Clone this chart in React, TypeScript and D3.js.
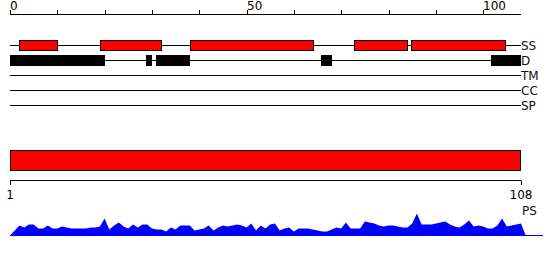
import React from "react";
import * as d3 from "d3";

const topTicks = [0, 10, 20, 30, 40, 50, 60, 70, 80, 90, 100];
const topTickLabels = ["0", "", "", "", "", "50", "", "", "", "", "100"];
const trackNames = ["SS", "D", "TM", "CC", "SP"];
const ssHelices: [number, number][] = [[2, 10], [19, 32], [38, 64], [72.8, 83.9], [84.8, 104.7]];
const disorder: [number, number][] = [[0, 20], [28.7, 30], [30.9, 38], [65.8, 68], [101.7, 108]];
const seqStart = 1;
const seqEnd = 108;
const psValues = [
  0, 5, 10, 8, 11, 11, 7, 7, 10, 7, 7, 9, 8, 7, 7, 7, 7, 8, 8, 9,
  17, 6, 10, 13, 9, 7, 11, 8, 11, 11, 7, 6, 6, 4, 8, 6, 10, 10, 10, 5,
  6, 7, 10, 5, 8, 10, 9, 10, 11, 10, 8, 12, 5, 10, 7, 11, 12, 5, 7, 8,
  4, 7, 7, 7, 6, 5, 4, 4, 6, 8, 7, 13, 7, 7, 7, 14, 13, 12, 10, 9,
  10, 10, 9, 8, 8, 12, 22, 11, 11, 11, 12, 13, 14, 11, 9, 8, 11, 15, 9, 10,
  9, 7, 7, 10, 17, 9, 10, 11, 12, 0,
];

export default function App() {
  const x = d3.scaleLinear().domain([0, 108]).range([10, 521]);
  const xb = d3.scaleLinear().domain([seqStart, seqEnd]).range([10, 521]);
  const yPs = d3.scaleLinear().domain([0, 25]).range([235.5, 210.5]);
  const rowY = (i: number) => 45.5 + i * 15;
  const font = "DejaVu Sans, sans-serif";

  const area = d3
    .area<number>()
    .x((_, i) => x(i))
    .y0(yPs(0))
    .y1((d) => yPs(d));

  return (
    <svg
      width={550}
      height={260}
      style={{ position: "absolute", left: 0, top: 0 }}
      fontFamily={font}
    >
      {/* top axis */}
      <line x1={x(0)} x2={x(108)} y1={14.5} y2={14.5} stroke="black" />
      {topTicks.map((t, i) => (
        <g key={t}>
          <line x1={Math.round(x(t)) + 0.5} x2={Math.round(x(t)) + 0.5} y1={10} y2={14.5} stroke="black" />
          {topTickLabels[i] && (
            <text x={Math.round(x(t))} y={10} fontSize={12} fill="black">
              {topTickLabels[i]}
            </text>
          )}
        </g>
      ))}

      {/* tracks */}
      {trackNames.map((n, i) => (
        <g key={n}>
          <line x1={x(0)} x2={x(108)} y1={rowY(i)} y2={rowY(i)} stroke="black" />
          <text x={521} y={rowY(i)} dy="0.35em" fontSize={12} fill="#111">
            {n}
          </text>
        </g>
      ))}
      {ssHelices.map(([a, b], i) => (
        <rect
          key={"ss" + i}
          x={Math.round(x(a)) + 0.5}
          y={40.5}
          width={Math.round(x(b)) - Math.round(x(a))}
          height={10}
          fill="#ff0000"
          stroke="black"
        />
      ))}
      {disorder.map(([a, b], i) => (
        <rect
          key={"d" + i}
          x={Math.round(x(a))}
          y={55}
          width={Math.round(x(b)) - Math.round(x(a))}
          height={11}
          fill="black"
        />
      ))}

      {/* sequence bar */}
      <rect
        x={xb(seqStart) + 0.5}
        y={150.5}
        width={xb(seqEnd) - xb(seqStart) - 1}
        height={20}
        fill="#ff0000"
        stroke="black"
      />
      <line x1={xb(seqStart)} x2={xb(seqEnd)} y1={180.5} y2={180.5} stroke="black" />
      {[seqStart, seqEnd].map((t) => (
        <g key={"b" + t}>
          <line x1={Math.round(xb(t)) + 0.5} x2={Math.round(xb(t)) + 0.5} y1={180.5} y2={185} stroke="black" />
          <text x={xb(t)} y={199} fontSize={12} textAnchor="middle" fill="black">
            {t}
          </text>
        </g>
      ))}
      <text x={522} y={215} fontSize={12} fill="#111">
        PS
      </text>

      {/* PS profile */}
      <line x1={10} x2={543} y1={235.5} y2={235.5} stroke="#0000ff" />
      <path d={area(psValues) || ""} fill="#0000ff" />
    </svg>
  );
}
